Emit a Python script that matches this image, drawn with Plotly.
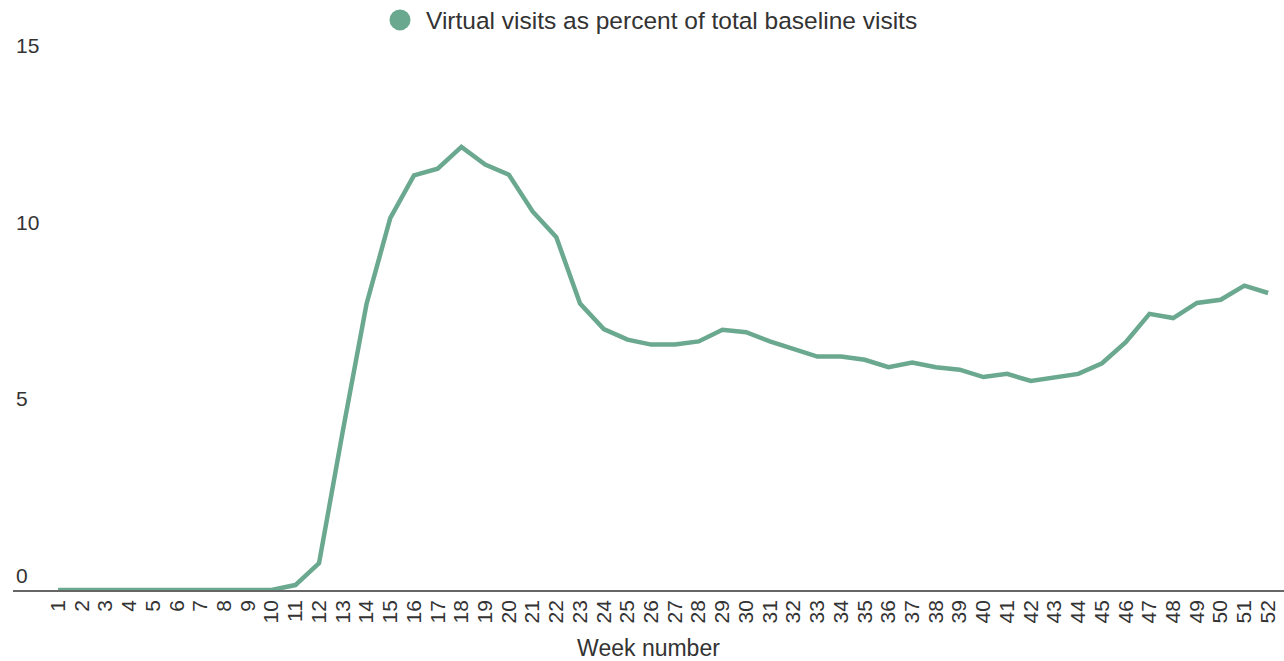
import plotly.graph_objects as go

weeks = list(range(1, 53))
week_labels = [str(w) for w in weeks]
virtual_pct = [
    0, 0, 0, 0, 0, 0, 0, 0, 0, 0,
    0.14, 0.76, 4.5, 8.1, 10.53, 11.74, 11.93, 12.55, 12.05, 11.76,
    10.72, 9.99, 8.11, 7.39, 7.09, 6.95, 6.95, 7.04, 7.37, 7.30,
    7.04, 6.82, 6.61, 6.61, 6.52, 6.31, 6.44, 6.31, 6.24, 6.03,
    6.12, 5.92, 6.03, 6.12, 6.42, 7.02, 7.82, 7.70, 8.13, 8.22,
    8.62, 8.41,
]
y_ticks = [0, 5, 10, 15]
series_name = "Virtual visits as percent of total baseline visits"

green = "#6aa88f"
font_family = "Liberation Sans, Arial, sans-serif"

fig = go.Figure()
fig.add_trace(go.Scatter(
    x=weeks, y=virtual_pct, mode="lines",
    line=dict(color=green, width=4.5),
    showlegend=False, name=series_name,
))
fig.add_trace(go.Scatter(
    x=[None], y=[None], mode="markers", name=series_name,
    marker=dict(color=green, size=16, line=dict(color=green, width=5)),
    showlegend=True,
))

fig.update_layout(
    width=1284, height=661,
    margin=dict(l=13, r=0, t=25, b=71, autoexpand=False),
    paper_bgcolor="white", plot_bgcolor="white",
    font=dict(family=font_family, color="#333333"),
    legend=dict(
        orientation="h", x=0.5, xanchor="center",
        yref="container", y=1 - 20 / 661, yanchor="middle",
        font=dict(size=24.5, color="#333333"),
        itemwidth=42,
    ),
    xaxis=dict(
        range=[-0.9, 52.67],
        tickmode="array", tickvals=weeks, ticktext=week_labels,
        tickangle=-90, tickfont=dict(size=21, color="#333333"),
        showgrid=False, zeroline=False,
        showline=True, linecolor="#666666", linewidth=1.5,
        ticks="",
        title=dict(text="Week number", font=dict(size=23, color="#333333"), standoff=18),
    ),
    yaxis=dict(
        range=[0, 16],
        tickmode="array", tickvals=y_ticks, ticktext=[str(v) for v in y_ticks],
        ticklabelposition="inside top",
        tickfont=dict(size=21, color="#333333"),
        showgrid=False, zeroline=False, showline=False, ticks="",
    ),
)

fig.write_html("out.html")
